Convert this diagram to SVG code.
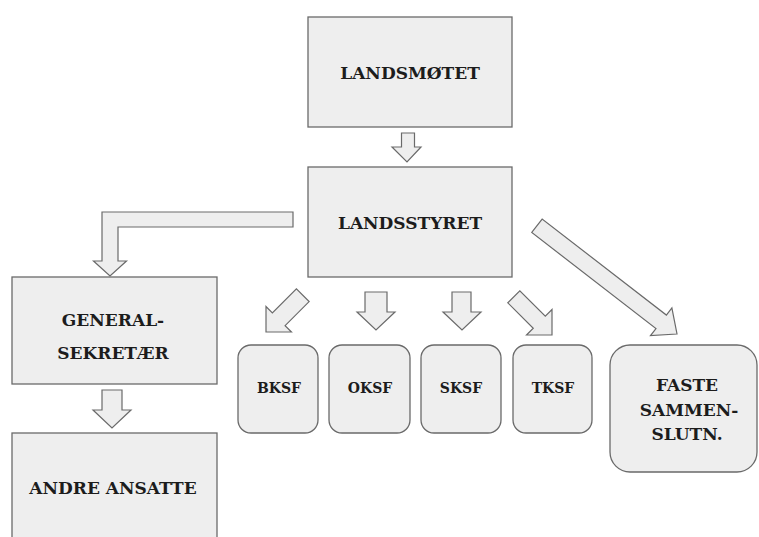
<svg xmlns="http://www.w3.org/2000/svg" width="759" height="537" viewBox="0 0 759 537">
<style>
.box{fill:#eeeeee;stroke:#6a6a6a;stroke-width:1.3}
.arr{fill:#eeeeee;stroke:#6a6a6a;stroke-width:1.2;stroke-linejoin:miter}
text{font-family:"DejaVu Serif","Liberation Serif",serif;font-weight:bold;fill:#1c1c1c;text-anchor:middle;dominant-baseline:central;font-size:17px}
.sm{font-size:14px}
</style>
<rect width="759" height="537" fill="#ffffff"/>
<g id="connectors">
<polygon class="arr" points="401.5,133 414.5,133 414.5,147 421,147 407,162 392,147 401.5,147"/>
<polygon class="arr" points="293,212 293,227 118,227 118,261 126.5,261 110,276 93.5,261 102,261 102,212"/>
<polygon class="arr" points="102,390 122,390 122,410 131,410 112,428 93,410 102,410"/>
<polygon class="arr" points="365,292 387,292 387,312 395,312 376,330 357,312 365,312"/>
<polygon class="arr" points="452,292 471,292 471,312 481,312 462,330 443,312 452,312"/>
<polygon class="arr" transform="translate(266,332) rotate(135)" points="0,0 -18,18 -18,9 -52,9 -52,-9 -18,-9 -18,-18"/>
<polygon class="arr" transform="translate(552,335) rotate(45)" points="0,0 -18,18 -18,8.5 -54,8.5 -54,-8.5 -18,-8.5 -18,-18"/>
<polygon class="arr" transform="translate(677,334) rotate(37.7)" points="0,0 -20,17.5 -20,8.5 -177,8.5 -177,-8.5 -20,-8.5 -20,-17.5"/>
</g>
<g id="landsmotet"><rect class="box" x="308" y="17" width="204" height="110"/><text x="410" y="73">LANDSMØTET</text></g>
<g id="landsstyret"><rect class="box" x="308" y="167" width="204" height="110"/><text x="410" y="223">LANDSSTYRET</text></g>
<g id="generalsekretaer"><rect class="box" x="12" y="277" width="205" height="107"/><text x="113" y="320">GENERAL-</text><text x="113" y="353">SEKRETÆR</text></g>
<g id="andre"><rect class="box" x="12" y="433" width="205" height="110"/><text x="113" y="488">ANDRE ANSATTE</text></g>
<g id="bksf"><rect class="box" x="238" y="345" width="80" height="88" rx="13"/><text class="sm" x="279" y="388">BKSF</text></g>
<g id="oksf"><rect class="box" x="329" y="345" width="81" height="88" rx="13"/><text class="sm" x="370" y="388">OKSF</text></g>
<g id="sksf"><rect class="box" x="421" y="345" width="80" height="88" rx="13"/><text class="sm" x="461" y="388">SKSF</text></g>
<g id="tksf"><rect class="box" x="513" y="345" width="79" height="88" rx="13"/><text class="sm" x="553" y="388">TKSF</text></g>
<g id="faste"><rect class="box" x="610" y="345" width="147" height="127" rx="20"/><text x="687" y="385">FASTE</text><text x="689" y="410">SAMMEN-</text><text x="687" y="434">SLUTN.</text></g>
</svg>
